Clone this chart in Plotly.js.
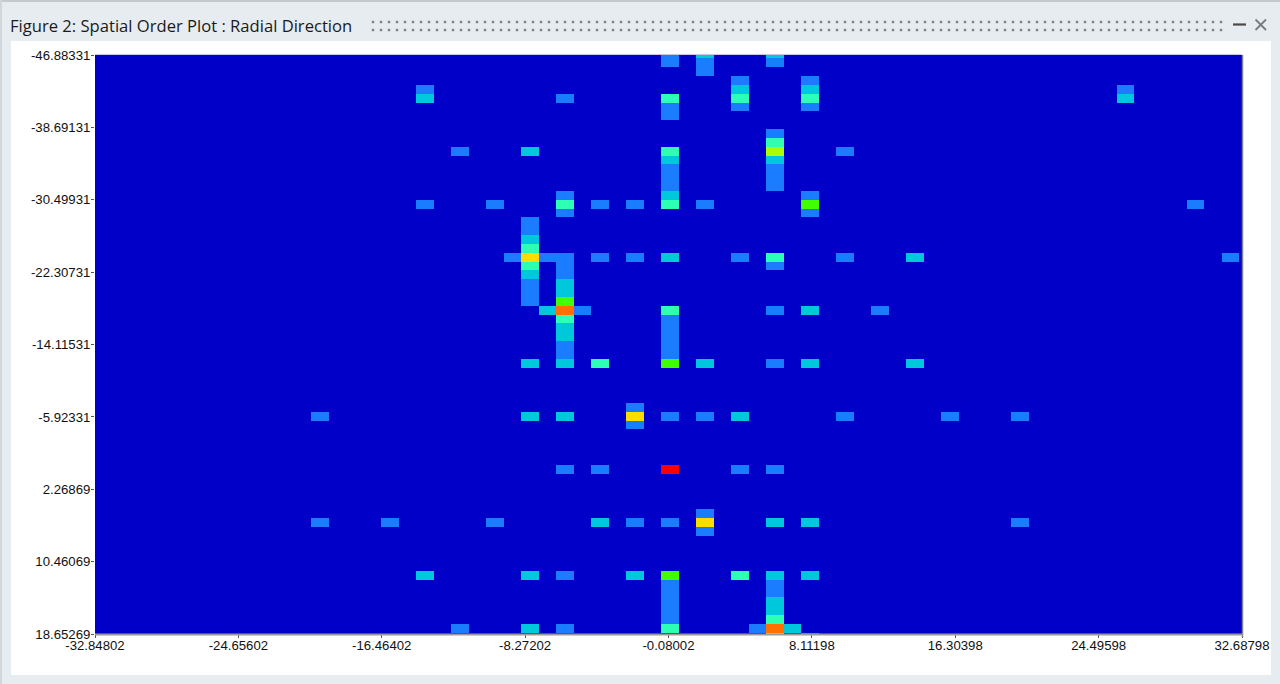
<!DOCTYPE html>
<html>
<head>
<meta charset="utf-8">
<script src="https://cdn.plot.ly/plotly-3.0.1.min.js"></script>
<style>html,body{margin:0;padding:0;background:#e6ecf0;overflow:hidden}#chart{width:1280px;height:684px}</style>
</head>
<body>
<div id="chart"></div>
<script>
const chartTitle = "Figure 2: Spatial Order Plot : Radial Direction";
const xTickVals = [-32.84802,-24.65602,-16.46402,-8.27202,-0.08002,8.11198,16.30398,24.49598,32.68798];
const xTickText = ["-32.84802","-24.65602","-16.46402","-8.27202","-0.08002","8.11198","16.30398","24.49598","32.68798"];
const yTickVals = [-46.88331,-38.69131,-30.49931,-22.30731,-14.11531,-5.92331,2.26869,10.46069,18.65269];
const yTickText = ["-46.88331","-38.69131","-30.49931","-22.30731","-14.11531","-5.92331","2.26869","10.46069","18.65269"];
const levelColors = ["#0000c8","#1a7dff","#00c8dc","#2dffb4","#40ff00","#aaff00","#ffdc00","#ff7000","#ff0000"];

// Non-background cells, one entry per cell: column order, row order, level
const cellCols = [
 0,2,6, 0,2,6, 2, 4,8, -14,4,8,26, -14,-6,0,4,8,26, 0,4,8, 0,
 6, 6, -12,-8,0,6,10, 0,6, 0,6, 0,6, 0,6,
 -6,0,8, -14,-10,-6,-4,-2,0,2,8,30, -6,8,
 -8, -8, -8, -8,
 -9,-8,-7,-6,-4,-2,0,4,6,10,14,32, -8,-6,6, -8,-6, -8,-6, -8,-6, -8,-6,
 -7,-6,-5,0,6,8,12, -6,0, -6,0, -6,0, -6,0, -6,0,
 -8,-6,-4,0,2,6,8,14,
 -2, -20,-8,-6,-2,0,2,4,10,16,20, -2,
 -6,-4,0,4,6,
 2, -20,-16,-10,-4,-2,0,2,6,8,20, 2,
 -14,-8,-6,-2,0,4,6,8, 0,6, 0,6, 0,6, 0,6, 0,6,
 -12,-8,-6,0,5,6,7, 6,8
];
const cellRows = [
 -47,-47,-47, -46,-46,-46, -45, -44,-44, -43,-43,-43,-43, -42,-42,-42,-42,-42,-42, -41,-41,-41, -40,
 -38, -37, -36,-36,-36,-36,-36, -35,-35, -34,-34, -33,-33, -32,-32,
 -31,-31,-31, -30,-30,-30,-30,-30,-30,-30,-30,-30, -29,-29,
 -28, -27, -26, -25,
 -24,-24,-24,-24,-24,-24,-24,-24,-24,-24,-24,-24, -23,-23,-23, -22,-22, -21,-21, -20,-20, -19,-19,
 -18,-18,-18,-18,-18,-18,-18, -17,-17, -16,-16, -15,-15, -14,-14, -13,-13,
 -12,-12,-12,-12,-12,-12,-12,-12,
 -7, -6,-6,-6,-6,-6,-6,-6,-6,-6,-6, -5,
 0,0,0,0,0,
 5, 6,6,6,6,6,6,6,6,6,6, 7,
 12,12,12,12,12,12,12,12, 13,13, 14,14, 15,15, 16,16, 17,17,
 18,18,18,18,18,18,18, 19,19
];
const cellLevels = [
 1,2,2, 1,1,1, 1, 1,1, 1,2,2,1, 2,1,3,3,3,2, 1,1,1, 1,
 1, 3, 1,2,3,5,1, 2,2, 1,1, 1,1, 1,1,
 1,2,1, 1,1,3,1,1,3,1,4,1, 1,1,
 1, 1, 2, 3,
 1,6,1,1,1,1,2,1,3,1,2,1, 3,1,1, 2,1, 1,2, 1,2, 1,4,
 2,7,1,3,1,2,1, 3,1, 2,1, 2,1, 1,1, 1,1,
 2,2,3,4,2,1,2,2,
 1, 1,2,2,6,1,1,2,1,1,1, 1,
 1,1,8,1,1,
 1, 1,1,1,2,1,1,6,2,2,1, 1,
 2,2,1,2,4,3,2,2, 1,1, 1,1, 1,2, 1,2, 1,3,
 1,2,1,3,1,7,2, 5,1
];
const xCenters = Array.from({length:67},(_,i)=>i-33);
const yCenters = Array.from({length:67},(_,i)=>i-47);

const z = yCenters.map(()=>xCenters.map(()=>0));
cellCols.forEach((c,i)=>{ z[cellRows[i]+47][c+33] = cellLevels[i]; });

const n = levelColors.length;
const colorscale = [];
levelColors.forEach((col,i)=>{ colorscale.push([i/n,col]); colorscale.push([(i+1)/n,col]); });

const W = 1280, H = 684;
const plot = {l:95, r:1242, t:55, b:634};
const px = v => (v-plot.l)/(plot.r-plot.l);
const py = v => (plot.b-v)/(plot.b-plot.t);
const pline = (x0,y0,x1,y1,color,width)=>({type:'line',xref:'paper',yref:'paper',x0:px(x0),y0:py(y0),x1:px(x1),y1:py(y1),line:{color:color,width:width}});

const shapes = [
 {type:'rect',xref:'paper',yref:'paper',layer:'below',x0:px(11),x1:px(1271),y0:py(41),y1:py(675),fillcolor:'#ffffff',line:{width:0}},
 pline(0,1,W,1,'#c3c9cd',2),
 pline(1,0,1,H,'#d0d6da',2),
 pline(plot.l,plot.t-0.5,plot.r,plot.t-0.5,'#c9c4e6',1),
 pline(plot.r+0.5,plot.t,plot.r+0.5,plot.b+3,'#808080',1.5),
 pline(plot.l,plot.b+0.5,plot.r+1,plot.b+0.5,'#9a9a9a',2),
 pline(1233,24.5,1246,24.5,'#4a4a4a',2.2),
 pline(1255.5,19.5,1266,30,'#7a7a7a',1.8),
 pline(1266,19.5,1255.5,30,'#7a7a7a',1.8)
];
for (let gx=373; gx<=1222; gx+=8) {
  [22,30].forEach(gy=>shapes.push({type:'rect',xref:'paper',yref:'paper',x0:px(gx-1.2),x1:px(gx+1.2),y0:py(gy-1.2),y1:py(gy+1.2),fillcolor:'#7d8285',line:{width:0}}));
}

const tickFont = {family:'"Liberation Sans", Arial, sans-serif',size:13.2,color:'#111111'};
Plotly.newPlot('chart',[{
  type:'heatmap',x:xCenters,y:yCenters,z:z,zmin:0,zmax:n,colorscale:colorscale,showscale:false,hoverinfo:'x+y+z'
}],{
  width:W,height:H,
  paper_bgcolor:'#e6ecf0',plot_bgcolor:'#0000c8',
  margin:{l:plot.l,r:W-plot.r,t:plot.t,b:H-plot.b,pad:0},
  title:{text:chartTitle,x:10/W,xanchor:'left',xref:'container',y:1-26/H,yanchor:'middle',yref:'container',
         font:{family:'"Open Sans", "Noto Sans", sans-serif',size:16.6,color:'#1a1a1a'}},
  xaxis:{range:[-32.84802,32.68798],tickmode:'array',tickvals:xTickVals,ticktext:xTickText,tickfont:tickFont,
         ticks:'outside',ticklen:3,tickwidth:1,tickcolor:'#555555',tickangle:0,ticklabelstandoff:-4,showgrid:false,zeroline:false,showline:false,automargin:false},
  yaxis:{range:[18.65269,-46.88331],tickmode:'array',tickvals:yTickVals,ticktext:yTickText,tickfont:tickFont,
         ticks:'outside',ticklen:3,tickwidth:1,tickcolor:'#555555',ticklabelstandoff:-2,showgrid:false,zeroline:false,showline:false,automargin:false},
  shapes:shapes,
  showlegend:false
},{displayModeBar:false,staticPlot:true});
</script>
</body>
</html>
